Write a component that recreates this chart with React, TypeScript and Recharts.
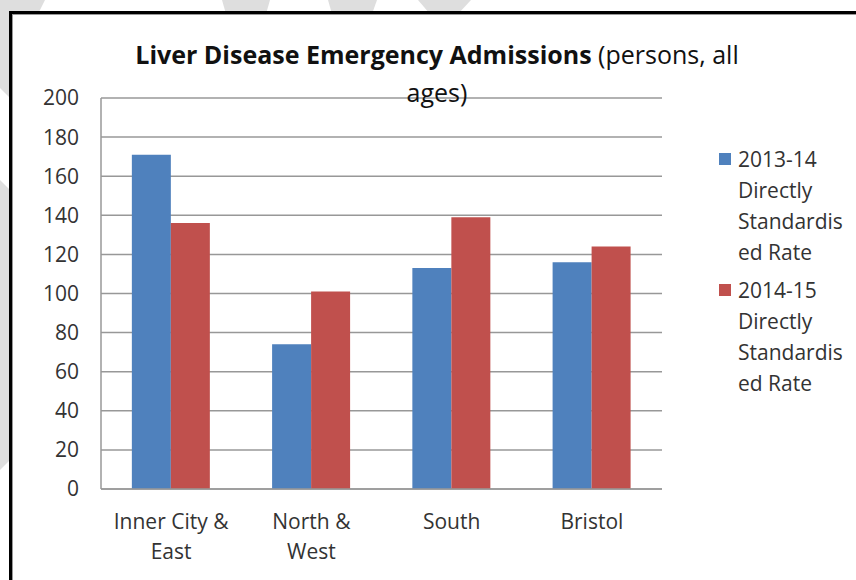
import React from 'react';
import { BarChart, Bar, XAxis, YAxis, CartesianGrid, Legend } from 'recharts';

const categories = ['Inner City & East', 'North & West', 'South', 'Bristol'];
const categoryLines = [['Inner City &', 'East'], ['North &', 'West'], ['South'], ['Bristol']];
const rate2013 = [171, 74, 113, 116];
const rate2014 = [136, 101, 139, 124];
const yTicks = [0, 20, 40, 60, 80, 100, 120, 140, 160, 180, 200];
const seriesNames = ['2013-14 Directly Standardised Rate', '2014-15 Directly Standardised Rate'];
const legendLines = [
    ['2013-14', 'Directly', 'Standardis', 'ed Rate'],
    ['2014-15', 'Directly', 'Standardis', 'ed Rate'],
];

const BLUE = '#4F81BD';
const RED = '#C0504D';
const FONT = '"Open Sans", "DejaVu Sans", sans-serif';
const LEGEND_W = 137;

const data = categories.map((name, i) => ({
    name,
    a: rate2013[i],
    b: rate2014[i],
}));

const XTick = (props: any) => {
    const { x, y, payload } = props;
    const idx = categories.indexOf(payload.value);
    const lines = categoryLines[idx] || [payload.value];
    return (
        <g transform={`translate(${x},${y})`}>
            {lines.map((l, i) => (
                <text key={i} x={0} y={i * 30} textAnchor="middle" fill="#333" fontSize={21} fontFamily={FONT}>
                    {l}
                </text>
            ))}
        </g>
    );
};

const LegendBox = () => (
    <div style={{ fontFamily: FONT, fontSize: 21, color: '#333', width: LEGEND_W }}>
        {legendLines.map((lines, i) => (
            <div key={i} style={{ position: 'relative', marginBottom: 7 }}>
                <span
                    style={{
                        position: 'absolute',
                        left: 0,
                        top: 9,
                        width: 12,
                        height: 12,
                        background: i === 0 ? BLUE : RED,
                    }}
                />
                {lines.map((l, j) => (
                    <div key={j} style={{ paddingLeft: 19, lineHeight: '31px', whiteSpace: 'nowrap' }}>
                        {l}
                    </div>
                ))}
            </div>
        ))}
    </div>
);

const Watermark = () => (
    <svg width={856} height={580} style={{ position: 'absolute', left: 0, top: 0 }}>
        <polygon points="0,0 45,0 38,14 0,14" fill="#dedede" />
        <polygon points="222,0 270,0 266,14 226,14" fill="#dedede" />
        <polygon points="328,0 377,0 372,14 332,14" fill="#dedede" />
        <polygon points="418,0 471,0 458,14 430,14" fill="#dedede" />
        <polygon points="0,0 10,0 10,98 0,88" fill="#dedede" />
        <polygon points="0,180 10,190 10,460 0,470" fill="#dedede" />
    </svg>
);

export default function App() {
    return (
        <div style={{ position: 'fixed', left: 0, top: 0, width: 856, height: 580, background: '#fff', overflow: 'hidden' }}>
            <Watermark />
            <div
                style={{
                    position: 'absolute',
                    left: 9,
                    top: 11,
                    width: 900,
                    height: 620,
                    borderLeft: '3px solid #000',
                    borderTop: '3px solid #000',
                    boxShadow: 'inset 1px 1px 0 #999',
                    background: '#fff',
                }}
            />
            <div
                style={{
                    position: 'absolute',
                    left: 0,
                    top: 35,
                    width: 874,
                    textAlign: 'center',
                    fontFamily: FONT,
                    fontSize: 25,
                    lineHeight: '38px',
                    color: '#111',
                    zIndex: 2,
                }}
            >
                <span style={{ fontWeight: 700 }}>Liver Disease Emergency Admissions</span> (persons, all
                <br />
                ages)
            </div>
            <div style={{ position: 'absolute', left: 0, top: 0 }}>
                <BarChart
                    width={856}
                    height={580}
                    data={data}
                    margin={{ top: 98, right: 194 - LEGEND_W, bottom: 31, left: 41 }}
                    barCategoryGap="22%"
                    barGap={0}
                >
                    <CartesianGrid vertical={false} stroke="#989898" strokeWidth={1.5} />
                    <XAxis
                        dataKey="name"
                        height={60}
                        tickLine={false}
                        axisLine={{ stroke: '#989898', strokeWidth: 1.5 }}
                        tick={<XTick />}
                        tickMargin={34}
                        interval={0}
                    />
                    <YAxis
                        width={60}
                        domain={[0, 200]}
                        ticks={yTicks}
                        interval={0}
                        tickLine={false}
                        tickSize={0}
                        tickMargin={22}
                        axisLine={{ stroke: '#989898', strokeWidth: 1.5 }}
                        tick={{ fill: '#333', fontSize: 21, fontFamily: FONT }}
                    />
                    <Legend
                        layout="vertical"
                        align="right"
                        verticalAlign="top"
                        content={<LegendBox />}
                        wrapperStyle={{ position: 'absolute', left: 719, top: 144, width: LEGEND_W }}
                    />
                    <Bar dataKey="a" name={seriesNames[0]} fill={BLUE} isAnimationActive={false} />
                    <Bar dataKey="b" name={seriesNames[1]} fill={RED} isAnimationActive={false} />
                </BarChart>
            </div>
        </div>
    );
}
